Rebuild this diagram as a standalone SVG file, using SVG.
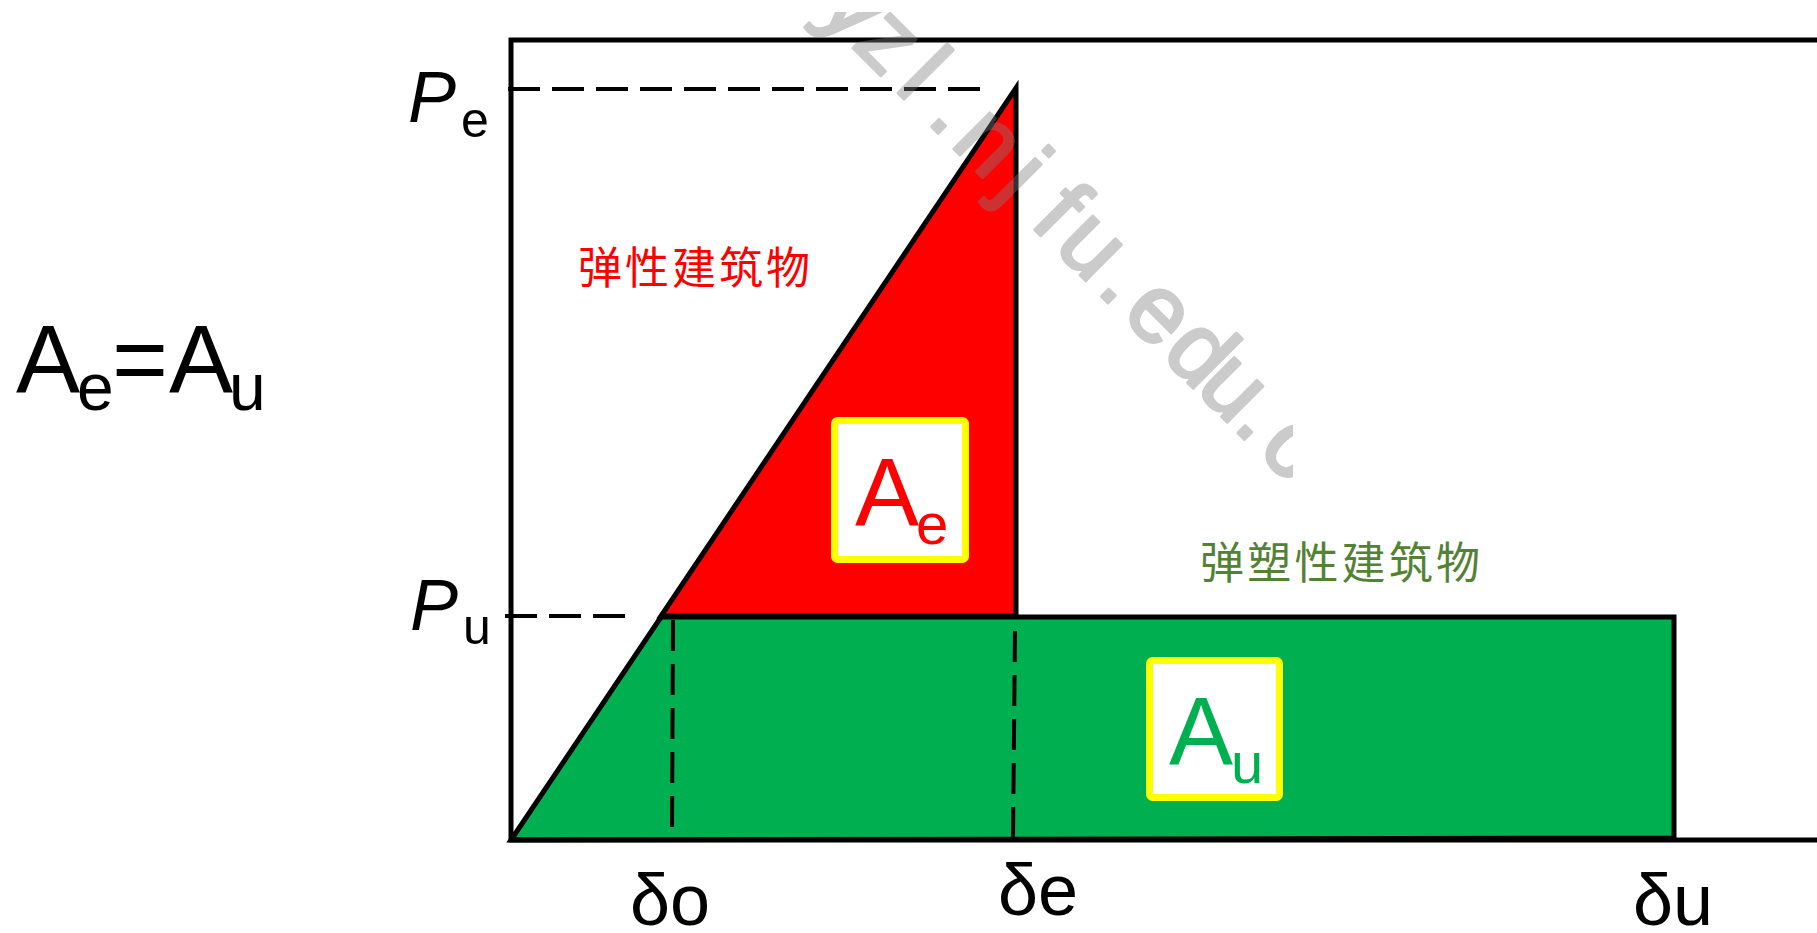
<svg xmlns="http://www.w3.org/2000/svg" width="1817" height="933" viewBox="0 0 1817 933">
<defs>
<style>
.ln{stroke:#000;stroke-width:5;fill:none}
.dash{stroke:#000;stroke-width:4;fill:none;stroke-dasharray:32 12}
.vdash{stroke:#000;stroke-width:4;fill:none;stroke-dasharray:31 13}
.lat{font-family:"Liberation Sans",Arial,sans-serif}
.cjk{font-family:"Noto Sans CJK SC","Noto Sans CJK TC",sans-serif;font-size:44px}
.box{fill:#fff;stroke:#ffff00;stroke-width:7}
.wm{font-family:"Liberation Sans",Arial,sans-serif;font-size:96px;fill:#7f7f7f;stroke:#7f7f7f;stroke-width:3;stroke-linejoin:round;text-anchor:middle}
</style>
<clipPath id="wmclip" clipPathUnits="userSpaceOnUse"><rect x="0" y="12" width="1293" height="921"/></clipPath>
</defs>
<rect width="1817" height="933" fill="#fff"/>

<g id="elastic-area">
<polygon points="1016,88 1016,616 661,616" fill="#ff0000" stroke="#000" stroke-width="5" stroke-linejoin="miter"/>
</g>

<g id="plastic-area">
<polygon points="511,840 661,617 1674,617 1674,838" fill="#00b050" stroke="#000" stroke-width="5"/>
</g>

<g id="axes">
<path class="ln" d="M1817,40 H511 V840 H1817"/>
</g>

<g id="connectors">
<path class="dash" d="M508,89 H980"/>
<path class="dash" d="M505,616 H625"/>
<path class="vdash" d="M673,620 L672,837"/>
<path class="vdash" d="M1015,631 L1013,837"/>
</g>

<g id="label-Ae">
<rect class="box" x="834.5" y="420.5" width="131" height="139" rx="3"/>
<text class="lat" fill="#ff0000"><tspan x="855" y="525" font-size="96">A</tspan><tspan x="916" y="544" font-size="58">e</tspan></text>
</g>

<g id="label-Au">
<rect class="box" x="1149.5" y="660.5" width="130" height="137" rx="3"/>
<text class="lat" fill="#00b050"><tspan x="1169" y="764" font-size="96">A</tspan><tspan x="1231" y="783" font-size="58">u</tspan></text>
</g>

<g id="label-elastic">
<text class="cjk" x="578" y="284" fill="#ff0000" textLength="232" lengthAdjust="spacing">弹性建筑物</text>
</g>

<g id="label-plastic">
<text class="cjk" x="1200" y="579" fill="#548235" textLength="280" lengthAdjust="spacing">弹塑性建筑物</text>
</g>

<g id="label-Pe">
<text class="lat"><tspan x="408" y="122" font-size="72" font-style="italic">P</tspan><tspan x="461" y="137" font-size="50">e</tspan></text>
</g>

<g id="label-Pu">
<text class="lat"><tspan x="410" y="630" font-size="72" font-style="italic">P</tspan><tspan x="463" y="644" font-size="50">u</tspan></text>
</g>

<g id="label-delta">
<text class="lat" x="630" y="925" font-size="72">δo</text>
<text class="lat" x="998" y="915" font-size="72">δe</text>
<text class="lat" x="1633" y="925" font-size="72">δu</text>
</g>

<g id="equation">
<text class="lat"><tspan x="16" y="392" font-size="96">A</tspan><tspan x="77" y="410" font-size="66">e</tspan><tspan x="112" y="392" font-size="96">=</tspan><tspan x="169" y="392" font-size="96">A</tspan><tspan x="229" y="410" font-size="66">u</tspan></text>
</g>

<g id="watermark" clip-path="url(#wmclip)" opacity="0.4">
<text class="wm" transform="translate(935,130) rotate(45)" x="-144 -96 -48 0 47 95 146 193 240 288 345 393 433 478" y="0">yzl.njfu.edu.c</text>
</g>
</svg>
